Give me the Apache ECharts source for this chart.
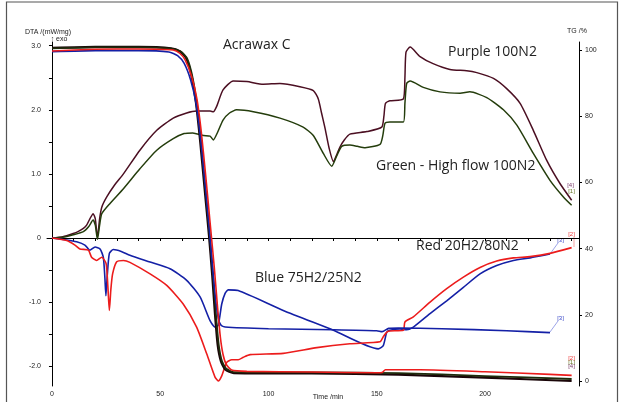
<!DOCTYPE html>
<html>
<head>
<meta charset="utf-8">
<script src="https://cdn.jsdelivr.net/npm/echarts@6/dist/echarts.min.js"></script>
<style>
  html, body { margin: 0; padding: 0; background: #fff; }
  #chart { width: 623px; height: 402px; }
</style>
</head>
<body>
<div id="chart"></div>
<script>
// Acrawax C - DTA / TG
// 刻度
var timeTicks = [0, 10, 20, 30, 40, 50, 60, 70, 80, 90, 100, 110, 120, 130, 140, 150, 160, 170, 180, 190, 200, 210, 220, 230, 240];
var timeLabels = [0, 50, 100, 150, 200];
var dtaLabels = [-2, -1, 0, 1, 2, 3];
var dtaTicks = [-2, -1.5, -1, -0.5, 0, 0.5, 1, 1.5, 2, 2.5, 3];
var tgLabels = [0, 20, 40, 60, 80, 100];

// DTA (mW/mg) 曲线  [time, value]
var purpleDTA = [[0,0],[5,0.02],[9.8,0.07],[12,0.1],[14.5,0.15],[16,0.2],[17.5,0.3],[19,0.38],[20,0.3],[21,0.01],[22,0.3],[23,0.48],[25.3,0.64],[29,0.83],[33,1.0],[40.6,1.37],[48.4,1.68],[56,1.87],[62.2,1.95],[66.8,1.98],[71,1.98],[73,1.98],[74.5,1.97],[76,2.05],[79,2.31],[83.7,2.45],[90,2.44],[97.6,2.40],[105.3,2.41],[114.5,2.36],[120.7,2.3],[123,2.17],[124.5,1.95],[126,1.73],[128,1.4],[130,1.19],[131.5,1.3],[133,1.42],[135,1.53],[137.6,1.62],[145.4,1.66],[152.3,1.73],[153.3,1.9],[154,2.1],[156,2.14],[162.3,2.17],[163,2.5],[163.5,2.9],[165.4,2.98],[170,2.83],[176,2.72],[183.8,2.63],[191.5,2.61],[196.2,2.58],[203.9,2.49],[210,2.33],[216.2,2.10],[222.3,1.68],[228.5,1.21],[234.6,0.85],[240,0.59]];
var greenDTA = [[0,0],[5,0.01],[9.8,0.05],[14.5,0.1],[17,0.18],[19,0.28],[20,0.2],[21,-0.02],[22,0.2],[23,0.38],[26.8,0.54],[33,0.77],[40.6,1.08],[48.4,1.37],[56,1.55],[61,1.63],[65,1.64],[70,1.6],[73,1.59],[74.5,1.53],[76.5,1.65],[79,1.84],[82,1.95],[85.3,2.0],[93,1.97],[105.3,1.87],[116,1.73],[120.7,1.6],[125.3,1.32],[129.2,1.12],[131.5,1.28],[133.8,1.43],[137.6,1.45],[141,1.43],[144.6,1.41],[151.5,1.46],[152.8,1.6],[153.8,1.79],[156,1.81],[162.3,1.81],[163,2.1],[163.8,2.41],[165.4,2.45],[171.5,2.35],[179.2,2.28],[188.5,2.26],[193,2.28],[200.8,2.19],[208.5,2.0],[214.7,1.76],[222.3,1.32],[230,0.9],[236.2,0.64],[240,0.51]];
var blueDTA = [[0,0],[6.8,-0.03],[11.4,-0.06],[15.2,-0.11],[17.5,-0.19],[19.9,-0.14],[22.2,-0.17],[23.7,-0.3],[24.4,-0.6],[24.9,-0.9],[25.5,-0.6],[26.5,-0.24],[28.3,-0.18],[32,-0.21],[36,-0.27],[45.3,-0.375],[54.5,-0.48],[62.2,-0.66],[68.4,-0.92],[73,-1.29],[75.3,-1.39],[76.8,-1.36],[78.4,-1.03],[80,-0.86],[81.4,-0.81],[86,-0.82],[106.8,-1.13],[130,-1.44],[150.7,-1.73],[153,-1.68],[154.6,-1.47],[156,-1.44],[160.7,-1.42],[163.8,-1.43],[166.9,-1.39],[174.6,-1.18],[182.3,-0.98],[190,-0.77],[197.7,-0.56],[205.4,-0.43],[213.1,-0.35],[220.8,-0.31],[230,-0.25]];
var redDTA = [[0,0],[6.8,-0.04],[10.6,-0.11],[12.9,-0.17],[16.8,-0.19],[18.3,-0.3],[20.6,-0.35],[23,-0.3],[25,-0.4],[25.8,-0.75],[26.5,-1.13],[27.2,-0.8],[28,-0.56],[29.9,-0.37],[33,-0.35],[36,-0.38],[45.3,-0.56],[53,-0.74],[60.6,-1.03],[66.8,-1.39],[71.5,-1.81],[75.3,-2.17],[76.8,-2.23],[78.4,-2.15],[80.7,-1.94],[83,-1.9],[86,-1.9],[88.4,-1.86],[91.5,-1.82],[106.8,-1.8],[122.3,-1.71],[137.6,-1.65],[151.5,-1.62],[153,-1.54],[154.9,-1.46],[156.1,-1.45],[162.3,-1.44],[163,-1.31],[166.9,-1.23],[174.6,-1.0],[182.3,-0.79],[190,-0.61],[197.7,-0.46],[205.4,-0.36],[213.1,-0.31],[220.8,-0.29],[230,-0.24],[240,-0.15]];

// TG (%) 曲线
var purpleTG = [[0,100.6],[20,100.9],[40,100.9],[55,100.5],[59,99.6],[62,97.5],[64.5,92],[66.5,84],[68.5,72],[70.5,58],[72.5,44],[74,32],[75.3,20],[76.5,11],[78,6],[80,3.5],[84,2.4],[120,2.3],[160,1.9],[200,1.0],[240,0.0]];
var greenTG = [[0,100.5],[20,100.8],[40,100.8],[55,100.4],[59.5,99.5],[62.5,97.3],[65,91.5],[67,83],[69,71],[71,57],[73,43],[74.5,31],[75.8,19.5],[77,11],[78.5,6],[80.5,3.7],[84,2.7],[120,2.6],[160,2.4],[200,1.5],[240,0.6]];
var blueTG = [[0,99.5],[20,99.8],[40,99.8],[54,99.4],[58,98.3],[61,96],[64,91],[66.5,84],[68.5,74],[70.5,61],[72.5,47],[74.2,34],[75.5,25],[76.8,19],[78,16.9],[80,16.3],[100,15.8],[130,15.5],[150,15.2],[152.5,14.9],[155.5,15.9],[160,16],[180,15.8],[210,15.2],[230,14.6]];
var redTG = [[0,99.7],[20,100.2],[40,100.3],[56,100],[59,99],[61.5,97],[64.5,92],[67,85],[69,75],[71,62],[73,48],[75,34],[76.5,22],[77.8,13],[79,8],[80.5,5],[83,3.3],[90,2.9],[120,2.7],[150,2.5],[152.5,2.6],[154,3.4],[170,3.4],[200,2.8],[230,2.0],[240,1.7]];

var cPurple = '#4b0f22';
var cGreen = '#243d0c';
var cBlue = '#1420a6';
var cRed = '#ec1c1c';

var myChart = echarts.init(document.getElementById('chart'));

function line(name, data, color, width, yIdx, z) {
  return {
    name: name,
    type: 'line',
    yAxisIndex: yIdx,
    data: data,
    showSymbol: false,
    smooth: 0.2,
    z: z,
    lineStyle: { color: color, width: width },
    emphasis: { disabled: true }
  };
}

var tickFont = { fontFamily: 'Liberation Sans, Arial, sans-serif', fontSize: 7, color: '#222' };

function txt(x, y, s, size, color, align) {
  return {
    type: 'text', x: x, y: y,
    style: {
      text: s, fill: color || '#222', align: align || 'left', verticalAlign: 'middle',
      font: size + 'px "Open Sans", sans-serif'
    }
  };
}
function small(x, y, s, color) {
  return {
    type: 'text', x: x, y: y,
    style: { text: s, fill: color, align: 'center', verticalAlign: 'middle', font: '6px "Liberation Sans", Arial, sans-serif' }
  };
}
function lead(x1, y1, x2, y2, color) {
  return { type: 'line', shape: { x1: x1, y1: y1, x2: x2, y2: y2 }, style: { stroke: color, lineWidth: 0.6 } };
}

var option = {
  animation: false,
  backgroundColor: '#fff',
  grid: { left: 47, right: 44, top: 42, bottom: 16 },
  xAxis: {
    type: 'value',
    min: -2.3,
    max: 243.4,
    axisLine: { lineStyle: { color: '#000', width: 1 } },
    axisTick: { show: true, length: 3, customValues: timeTicks, lineStyle: { color: '#000' } },
    axisLabel: Object.assign({ customValues: timeLabels, margin: 5 }, tickFont),
    splitLine: { show: false }
  },
  yAxis: [{
    type: 'value',
    position: 'left',
    min: -2.309,
    max: 3.058,
    axisLine: { show: true, lineStyle: { color: '#000', width: 1 } },
    axisTick: { show: true, length: 3, customValues: dtaTicks, lineStyle: { color: '#000' } },
    axisLabel: Object.assign({
      customValues: dtaLabels, margin: 6,
      formatter: function (v) { return v === 0 ? '0' : v.toFixed(1); }
    }, tickFont),
    splitLine: { show: false }
  }, {
    type: 'value',
    position: 'right',
    min: -1.51,
    max: 102.4,
    axisLine: { show: true, lineStyle: { color: '#000', width: 1 } },
    axisTick: { show: true, length: 3, customValues: tgLabels, lineStyle: { color: '#000' } },
    axisLabel: Object.assign({ customValues: tgLabels, margin: 6 }, tickFont),
    splitLine: { show: false }
  }],
  series: [
    line('Purple DTA', purpleDTA, cPurple, 1.5, 0, 2),
    line('Green DTA', greenDTA, cGreen, 1.5, 0, 2),
    line('Blue DTA', blueDTA, cBlue, 1.6, 0, 3),
    line('Red DTA', redDTA, cRed, 1.6, 0, 3),
    line('Purple TG', purpleTG, '#1a0508', 2.2, 1, 4),
    line('Green TG', greenTG, '#1f2c0c', 1.8, 1, 4),
    line('Blue TG', blueTG, cBlue, 1.6, 1, 4),
    line('Red TG', redTG, cRed, 1.6, 1, 4)
  ],
  graphic: [
    { type: 'rect', shape: { x: 6.5, y: 2, width: 611, height: 412 }, style: { fill: 'none', stroke: '#555', lineWidth: 1.2 }, silent: true },
    { type: 'text', x: 48, y: 32, style: { text: 'DTA /(mW/mg)', fill: '#222', align: 'center', verticalAlign: 'middle', font: '7px "Liberation Sans", Arial, sans-serif' } },
    { type: 'text', x: 59, y: 39.5, style: { text: '\u2191 exo', fill: '#222', align: 'center', verticalAlign: 'middle', font: '7px "Liberation Sans", Arial, sans-serif' } },
    { type: 'text', x: 577, y: 31, style: { text: 'TG /%', fill: '#222', align: 'center', verticalAlign: 'middle', font: '7px "Liberation Sans", Arial, sans-serif' } },
    { type: 'text', x: 328, y: 397.5, style: { text: 'Time /min', fill: '#222', align: 'center', verticalAlign: 'middle', font: '7px "Liberation Sans", Arial, sans-serif' } },
    txt(223, 45, 'Acrawax C', 14),
    txt(448, 52.5, 'Purple 100N2', 14),
    txt(376, 166.5, 'Green - High flow 100N2', 14),
    txt(416, 246, 'Red 20H2/80N2', 14),
    txt(255, 278.5, 'Blue 75H2/25N2', 14),
    small(570.5, 185.5, '[4]', '#7a3a6a'),
    small(571.5, 191, '[1]', '#6a7a2a'),
    small(560.5, 240, '[3]', '#3a48c8'),
    lead(558, 243, 550, 254, '#5a68d8'),
    small(571.5, 234, '[2]', '#ec3a3a'),
    lead(574, 237, 574, 247, '#ec6a6a'),
    small(560.5, 318, '[3]', '#3a48c8'),
    lead(558, 321, 550, 332, '#5a68d8'),
    small(571.5, 358.5, '[2]', '#ec3a3a'),
    small(571.5, 362.5, '[1]', '#6a7a2a'),
    small(571.5, 366.5, '[4]', '#7a3a6a')
  ]
};

myChart.setOption(option);
</script>
</body>
</html>
